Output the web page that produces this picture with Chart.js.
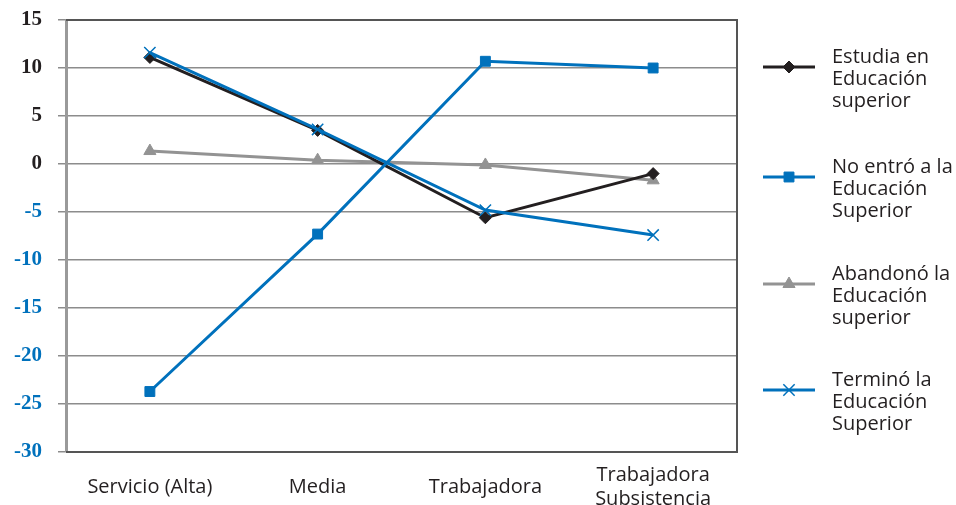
<!DOCTYPE html>
<html>
<head>
<meta charset="utf-8">
<script src="https://cdn.jsdelivr.net/npm/chart.js@4"></script>
<style>
  html, body { margin: 0; padding: 0; background: #fff; }
  #wrap { width: 956px; height: 505px; }
</style>
</head>
<body>
<div id="wrap"><canvas id="chart" width="956" height="505"></canvas></div>
<script>
// categories and series
const categories = [['Servicio (Alta)'], ['Media'], ['Trabajadora'], ['Trabajadora', 'Subsistencia']];
const estudia   = [11.1, 3.5, -5.6, -1.0];
const noEntro   = [-23.7, -7.3, 10.7, 10.0];
const abandono  = [1.35, 0.4, -0.1, -1.7];
const termino   = [11.6, 3.6, -4.8, -7.4];
const legendLabels = [
  ['Estudia en', 'Educación', 'superior'],
  ['No entró a la', 'Educación', 'Superior'],
  ['Abandonó la', 'Educación', 'superior'],
  ['Terminó la', 'Educación', 'Superior']
];

const BLUE = '#0071bc';
const BLACK = '#231f20';
const GREY = '#939393';
const TEXT_FONT = '"Open Sans", Lato, sans-serif';

// box lines: top, right, bottom
const frame = {
  id: 'frame',
  beforeDatasetsDraw(chart) {
    const { ctx, chartArea: a } = chart;
    ctx.save();
    ctx.strokeStyle = '#555';
    ctx.lineWidth = 2;
    ctx.beginPath();
    ctx.moveTo(a.left, a.top);
    ctx.lineTo(a.right, a.top);
    ctx.lineTo(a.right, a.bottom);
    ctx.lineTo(a.left, a.bottom);
    ctx.stroke();
    ctx.restore();
  }
};

// legend with wrapped labels, drawn right of the plot
const legendWrap = {
  id: 'legendWrap',
  afterDraw(chart) {
    const c = chart.ctx;
    const tops = [47, 157, 264, 370];
    c.save();
    chart.data.datasets.forEach((ds, i) => {
      const y0 = tops[i];
      const lineY = y0 + 20;
      c.strokeStyle = ds.borderColor;
      c.lineWidth = 3;
      c.beginPath();
      c.moveTo(763, lineY);
      c.lineTo(815, lineY);
      c.stroke();
      c.fillStyle = ds.backgroundColor;
      c.lineWidth = ds.pointBorderWidth;
      Chart.helpers.drawPoint(c, {
        pointStyle: ds.pointStyle,
        radius: ds.pointRadius,
        borderWidth: ds.pointBorderWidth
      }, 789, lineY);
      c.fillStyle = BLACK;
      c.font = '20px ' + TEXT_FONT;
      c.textAlign = 'left';
      c.textBaseline = 'top';
      legendLabels[i].forEach((t, j) => c.fillText(t, 832, y0 + j * 22));
    });
    c.restore();
  }
};

const ctx = document.getElementById('chart').getContext('2d');
new Chart(ctx, {
  type: 'line',
  data: {
    labels: categories,
    datasets: [
      {
        label: 'Estudia en Educación superior',
        data: estudia,
        borderColor: BLACK, backgroundColor: BLACK,
        borderWidth: 3, pointStyle: 'rectRot', pointRadius: 6,
        pointBorderWidth: 1, order: 3
      },
      {
        label: 'No entró a la Educación Superior',
        data: noEntro,
        borderColor: BLUE, backgroundColor: BLUE,
        borderWidth: 3, pointStyle: 'rect', pointRadius: 7,
        pointBorderWidth: 1, order: 1
      },
      {
        label: 'Abandonó la Educación superior',
        data: abandono,
        borderColor: GREY, backgroundColor: GREY,
        borderWidth: 3, pointStyle: 'triangle', pointRadius: 7,
        pointBorderWidth: 1, order: 4
      },
      {
        label: 'Terminó la Educación Superior',
        data: termino,
        borderColor: BLUE, backgroundColor: BLUE,
        borderWidth: 3, pointStyle: 'crossRot', pointRadius: 8,
        pointBorderWidth: 1.5, order: 0
      }
    ]
  },
  options: {
    responsive: false,
    animation: false,
    layout: { padding: { top: 20, right: 219, left: 0, bottom: 0 } },
    plugins: {
      legend: { display: false },
      tooltip: { enabled: false }
    },
    elements: { line: { tension: 0 } },
    scales: {
      x: {
        offset: true,
        grid: { display: false, drawTicks: false },
        border: { display: false },
        afterFit(scale) { scale.height = 53; },
        ticks: {
          color: BLACK,
          font: { family: TEXT_FONT, size: 20 },
          padding: 23,
          crossAlign: 'center',
          maxRotation: 0,
          autoSkip: false
        }
      },
      y: {
        min: -30, max: 15,
        afterFit(scale) {
          scale.width = 66;
          scale.paddingTop = 0;
          scale.paddingBottom = 0;
        },
        grid: { color: '#8c8c8c', lineWidth: 1.5, tickLength: 8 },
        border: { color: '#9a9a9a', width: 3 },
        ticks: {
          stepSize: 5,
          padding: 16,
          font: { family: '"Liberation Serif", serif', size: 21, weight: 'bold' },
          color: c => (c.tick.value < 0 ? BLUE : BLACK)
        }
      }
    }
  },
  plugins: [frame, legendWrap]
});
</script>
</body>
</html>
